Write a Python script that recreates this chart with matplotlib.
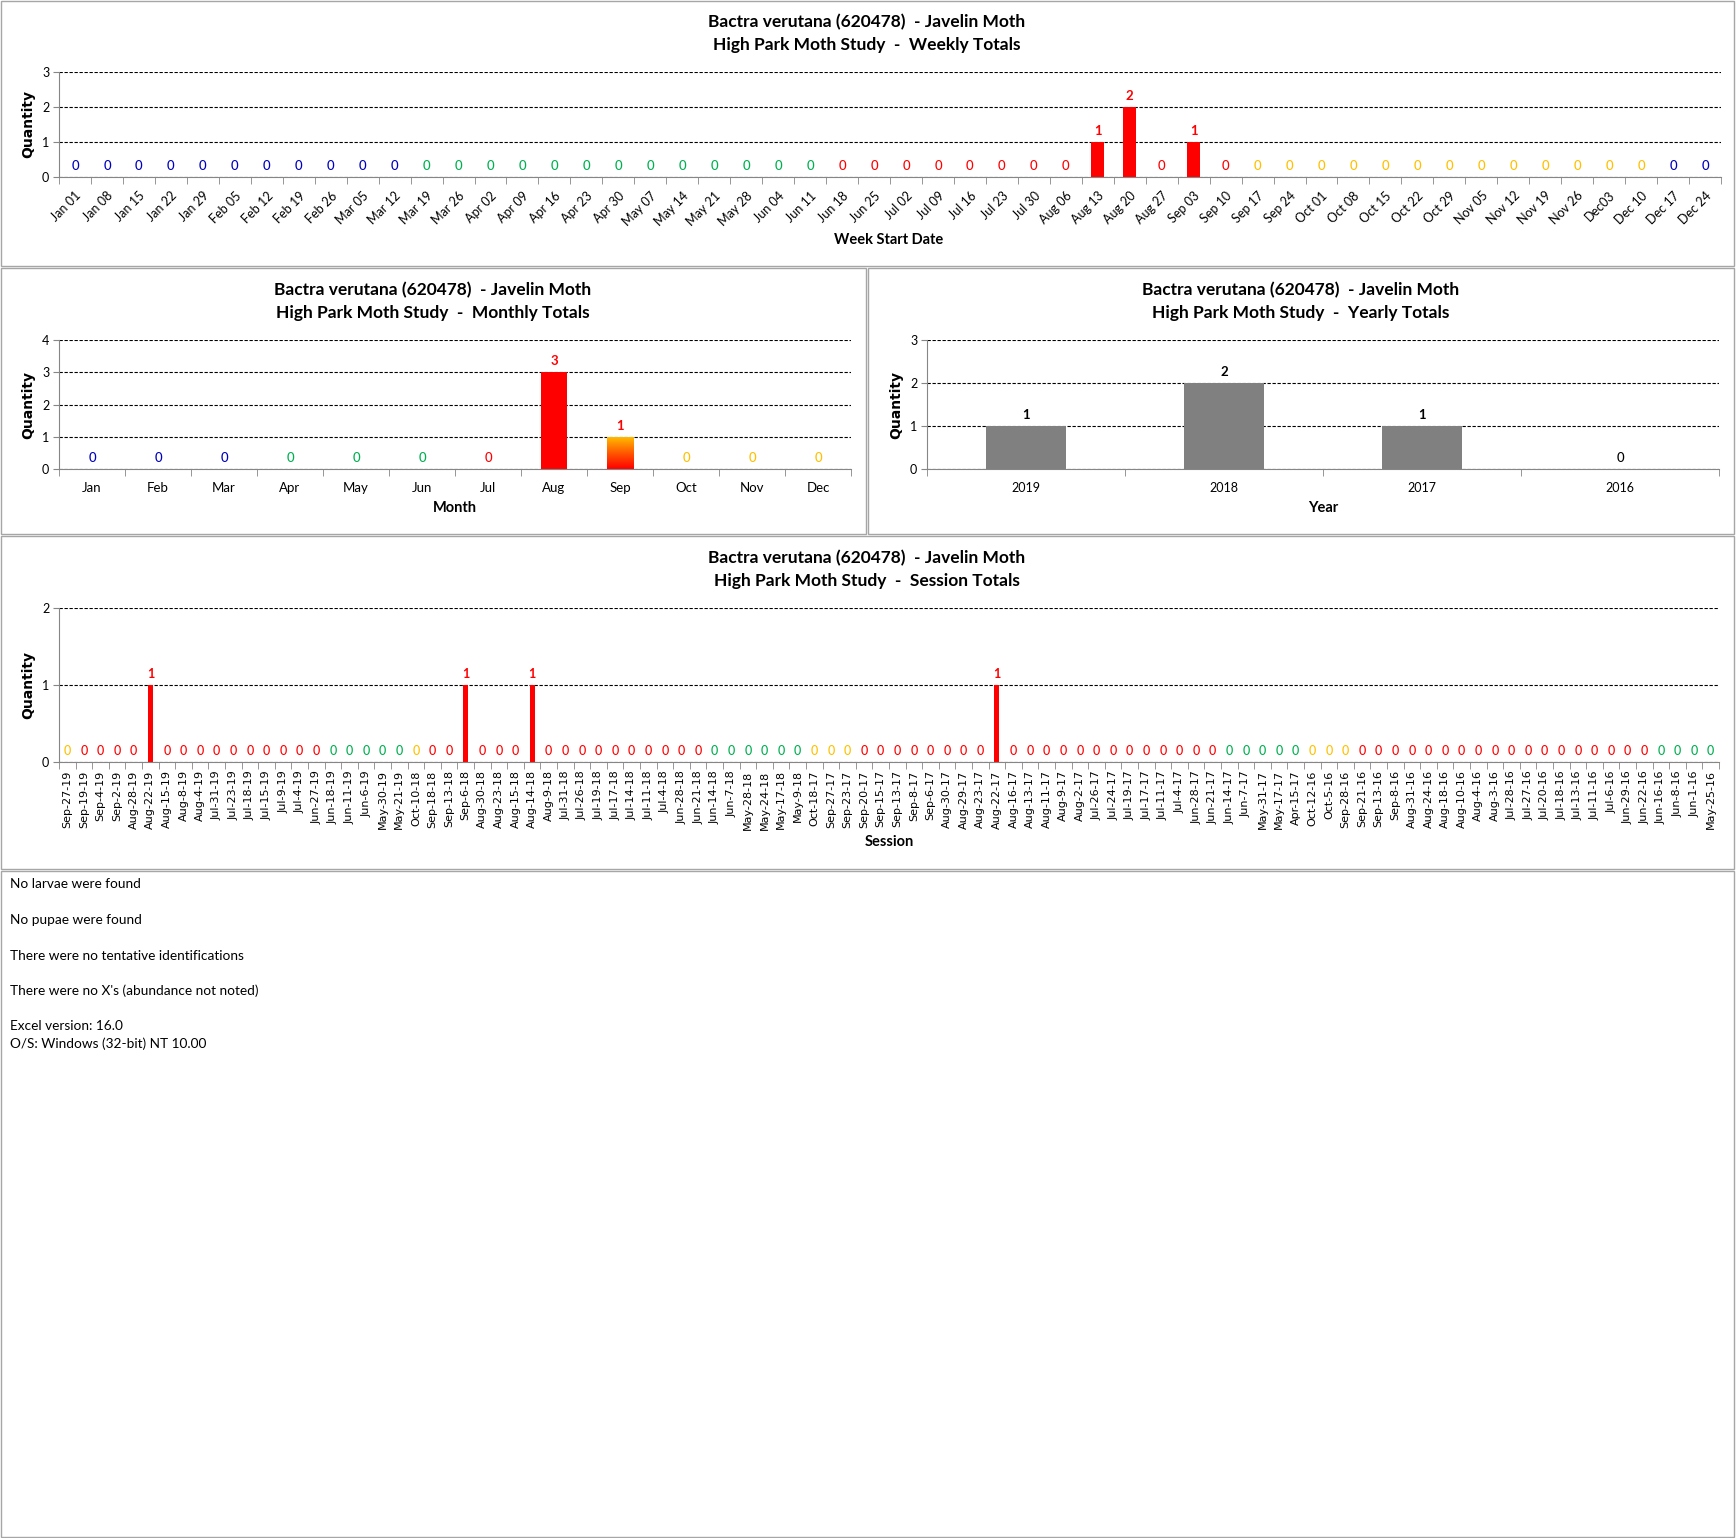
import matplotlib
matplotlib.use('Agg')
import matplotlib.pyplot as plt
import numpy as np
from matplotlib.patches import Rectangle
from matplotlib.colors import LinearSegmentedColormap

plt.rcParams['font.family'] = ['Lato', 'DejaVu Sans']

W, H = 1736, 1538

# ---- data ----
week_labels = ['Jan 01', 'Jan 08', 'Jan 15', 'Jan 22', 'Jan 29', 'Feb 05', 'Feb 12', 'Feb 19',
               'Feb 26', 'Mar 05', 'Mar 12', 'Mar 19', 'Mar 26', 'Apr 02', 'Apr 09', 'Apr 16',
               'Apr 23', 'Apr 30', 'May 07', 'May 14', 'May 21', 'May 28', 'Jun 04', 'Jun 11',
               'Jun 18', 'Jun 25', 'Jul 02', 'Jul 09', 'Jul 16', 'Jul 23', 'Jul 30', 'Aug 06',
               'Aug 13', 'Aug 20', 'Aug 27', 'Sep 03', 'Sep 10', 'Sep 17', 'Sep 24', 'Oct 01',
               'Oct 08', 'Oct 15', 'Oct 22', 'Oct 29', 'Nov 05', 'Nov 12', 'Nov 19', 'Nov 26',
               'Dec03', 'Dec 10', 'Dec 17', 'Dec 24']
week_values = [0, 0, 0, 0, 0, 0, 0, 0, 0, 0, 0, 0, 0, 0, 0, 0,
               0, 0, 0, 0, 0, 0, 0, 0, 0, 0, 0, 0, 0, 0, 0, 0,
               1, 2, 0, 1, 0, 0, 0, 0, 0, 0, 0, 0, 0, 0, 0, 0,
               0, 0, 0, 0]
week_seasons = ['w'] * 11 + ['s'] * 13 + ['u'] * 13 + ['f'] * 13 + ['w'] * 2

month_labels = ['Jan', 'Feb', 'Mar', 'Apr', 'May', 'Jun', 'Jul', 'Aug', 'Sep', 'Oct', 'Nov', 'Dec']
month_values = [0, 0, 0, 0, 0, 0, 0, 3, 1, 0, 0, 0]
month_seasons = ['w', 'w', 'w', 's', 's', 's', 'u', 'u', 'u', 'f', 'f', 'f']

year_labels = ['2019', '2018', '2017', '2016']
year_values = [1, 2, 1, 0]

session_labels = [
    'Sep-27-19', 'Sep-19-19', 'Sep-4-19', 'Sep-2-19', 'Aug-28-19', 'Aug-22-19', 'Aug-15-19',
    'Aug-8-19', 'Aug-4-19', 'Jul-31-19', 'Jul-23-19', 'Jul-18-19', 'Jul-15-19', 'Jul-9-19',
    'Jul-4-19', 'Jun-27-19', 'Jun-18-19', 'Jun-11-19', 'Jun-6-19', 'May-30-19', 'May-21-19',
    'Oct-10-18', 'Sep-18-18', 'Sep-13-18', 'Sep-6-18', 'Aug-30-18', 'Aug-23-18', 'Aug-15-18',
    'Aug-14-18', 'Aug-9-18', 'Jul-31-18', 'Jul-26-18', 'Jul-19-18', 'Jul-17-18', 'Jul-14-18',
    'Jul-11-18', 'Jul-4-18', 'Jun-28-18', 'Jun-21-18', 'Jun-14-18', 'Jun-7-18', 'May-28-18',
    'May-24-18', 'May-17-18', 'May-9-18',
    'Oct-18-17', 'Sep-27-17', 'Sep-23-17', 'Sep-20-17', 'Sep-15-17', 'Sep-13-17', 'Sep-8-17',
    'Sep-6-17', 'Aug-30-17', 'Aug-29-17', 'Aug-23-17', 'Aug-22-17', 'Aug-16-17', 'Aug-13-17',
    'Aug-11-17', 'Aug-9-17', 'Aug-2-17', 'Jul-26-17', 'Jul-24-17', 'Jul-19-17', 'Jul-17-17',
    'Jul-11-17', 'Jul-4-17', 'Jun-28-17', 'Jun-21-17', 'Jun-14-17', 'Jun-7-17', 'May-31-17',
    'May-17-17', 'Apr-15-17',
    'Oct-12-16', 'Oct-5-16', 'Sep-28-16', 'Sep-21-16', 'Sep-13-16', 'Sep-8-16', 'Aug-31-16',
    'Aug-24-16', 'Aug-18-16', 'Aug-10-16', 'Aug-4-16', 'Aug-3-16', 'Jul-28-16', 'Jul-27-16',
    'Jul-20-16', 'Jul-18-16', 'Jul-13-16', 'Jul-11-16', 'Jul-6-16', 'Jun-29-16', 'Jun-22-16',
    'Jun-16-16', 'Jun-8-16', 'Jun-1-16', 'May-25-16']
session_values = [0, 0, 0, 0, 0, 1, 0, 0, 0, 0, 0, 0, 0, 0, 0, 0, 0, 0, 0, 0, 0,
                  0, 0, 0, 1, 0, 0, 0, 1, 0, 0, 0, 0, 0, 0, 0, 0, 0, 0, 0, 0, 0, 0, 0, 0,
                  0, 0, 0, 0, 0, 0, 0, 0, 0, 0, 0, 1, 0, 0, 0, 0, 0, 0, 0, 0, 0, 0, 0, 0,
                  0, 0, 0, 0, 0, 0,
                  0, 0, 0, 0, 0, 0, 0, 0, 0, 0, 0, 0, 0, 0, 0, 0, 0, 0, 0, 0, 0, 0, 0, 0, 0]

notes = ['No larvae were found', 'No pupae were found', 'There were no tentative identifications',
         "There were no X's (abundance not noted)", 'Excel version: 16.0',
         'O/S: Windows (32-bit) NT 10.00']

SEASON_COLORS = {'w': '#0000c0', 's': '#00b050', 'u': '#ff0000', 'f': '#ffc000'}
MONTHS = ['Jan', 'Feb', 'Mar', 'Apr', 'May', 'Jun', 'Jul', 'Aug', 'Sep', 'Oct', 'Nov', 'Dec']


def session_season(label):
    mon, day, _ = label.split('-')
    md = (MONTHS.index(mon) + 1, int(day))
    if (3, 20) <= md < (6, 21):
        return 's'
    if (6, 21) <= md < (9, 22):
        return 'u'
    if (9, 22) <= md < (12, 21):
        return 'f'
    return 'w'


session_seasons = [session_season(s) for s in session_labels]

fig = plt.figure(figsize=(W / 100, H / 100), dpi=100)


def px_axes(l, t, r, b):
    return fig.add_axes([l / W, 1 - b / H, (r - l) / W, (b - t) / H])


def fig_text(x, y, s, **kw):
    fig.text(x / W, 1 - y / H, s, **kw)


def panel(l, t, r, b):
    fig.add_artist(Rectangle((l / W, 1 - b / H), (r - l) / W, (b - t) / H,
                             transform=fig.transFigure, fill=False, ec='#a6a6a6', lw=1.0))


def titles(cx, y1, which):
    fig_text(cx, y1, 'Bactra verutana (620478)  - Javelin Moth', ha='center', va='center',
             fontsize=12.5, fontweight='bold')
    fig_text(cx, y1 + 23, 'High Park Moth Study  -  ' + which, ha='center', va='center',
             fontsize=12.5, fontweight='bold')


def style_axes(ax, n, ymax):
    ax.set_xlim(-0.5, n - 0.5)
    ax.set_ylim(0, ymax)
    ax.set_yticks(range(ymax + 1))
    ax.yaxis.grid(True, linestyle=(0, (3, 1.5)), color='black', lw=0.8)
    ax.set_axisbelow(False)
    for s in ['top', 'right']:
        ax.spines[s].set_visible(False)
    for s in ['left', 'bottom']:
        ax.spines[s].set_color('#868686')
        ax.spines[s].set_zorder(5)
    ax.set_xticks(np.arange(n + 1) - 0.5, minor=True)
    ax.tick_params(axis='x', which='minor', length=5, color='#868686')
    ax.tick_params(axis='x', which='major', length=0)
    ax.tick_params(axis='y', length=4, color='#868686', labelsize=9, pad=3)


def bar_labels(ax, values, colors, size=9.5):
    for i, (v, c) in enumerate(zip(values, colors)):
        ax.annotate(str(v), (i, v), xytext=(0, 8), textcoords='offset points',
                    ha='center', va='center', color=c, fontsize=size,
                    fontweight='bold' if v else 'medium', zorder=6)


# ---- panels ----
panel(1, 1, 1734, 266)
panel(1, 268, 866, 534)
panel(868, 268, 1734, 534)
panel(1, 536, 1734, 869)
panel(1, 871, 1734, 1537)

# weekly
ax = px_axes(59, 72, 1721, 177)
n = len(week_values)
ax.bar(np.arange(n), week_values, 0.4, color='#ff0000', zorder=3)
style_axes(ax, n, 3)
ax.set_xticks(np.arange(n), week_labels, rotation=45, ha='right', rotation_mode='anchor',
              fontsize=9)
ax.tick_params(axis='x', which='major', pad=9)
bar_labels(ax, week_values, [SEASON_COLORS[s] for s in week_seasons])
titles(867, 22, 'Weekly Totals')
fig_text(889, 240, 'Week Start Date', ha='center', va='center', fontsize=10.5, fontweight='bold')
fig_text(28, 124, 'Quantity', rotation=90, ha='center', va='center', fontsize=10,
         fontweight='bold', family='DejaVu Sans')

# monthly
ax = px_axes(59, 340, 851, 469)
n = len(month_values)
bars = ax.bar(np.arange(n), month_values, 0.4, color='#ff0000', zorder=3)
style_axes(ax, n, 4)
ax.set_xticks(np.arange(n), month_labels, fontsize=9.5)
ax.tick_params(axis='x', which='major', pad=9)
sep = bars[8]
grad = LinearSegmentedColormap.from_list('sep', ['#ff0000', '#ff5a00', '#ffc000'])
img = ax.imshow(np.linspace(0, 1, 100).reshape(-1, 1), cmap=grad, origin='lower', aspect='auto',
                extent=(sep.get_x(), sep.get_x() + sep.get_width(), 0, sep.get_height()), zorder=4)
img.set_clip_path(sep)
ax.set_xlim(-0.5, n - 0.5)
ax.set_ylim(0, 4)
bar_labels(ax, month_values, [SEASON_COLORS[s] for s in month_seasons])
titles(433, 290, 'Monthly Totals')
fig_text(455, 508, 'Month', ha='center', va='center', fontsize=10.5, fontweight='bold')
fig_text(28, 405, 'Quantity', rotation=90, ha='center', va='center', fontsize=10,
         fontweight='bold', family='DejaVu Sans')

# yearly
ax = px_axes(927, 340, 1719, 469)
n = len(year_values)
ax.bar(np.arange(n), year_values, 0.4, color='#808080', zorder=3)
style_axes(ax, n, 3)
ax.set_xticks(np.arange(n), year_labels, fontsize=9)
ax.tick_params(axis='x', which='major', pad=9)
bar_labels(ax, year_values, ['black'] * n)
titles(1301, 290, 'Yearly Totals')
fig_text(1323, 508, 'Year', ha='center', va='center', fontsize=10.5, fontweight='bold')
fig_text(896, 405, 'Quantity', rotation=90, ha='center', va='center', fontsize=10,
         fontweight='bold', family='DejaVu Sans')

# sessions
ax = px_axes(59, 608, 1719, 762)
n = len(session_values)
ax.bar(np.arange(n), session_values, 0.3, color='#ff0000', zorder=3)
style_axes(ax, n, 2)
ax.set_xticks(np.arange(n), session_labels, rotation=90, fontsize=8, family='DejaVu Sans')
ax.tick_params(axis='x', which='major', pad=6)
bar_labels(ax, session_values, [SEASON_COLORS[s] for s in session_seasons], size=9)
titles(867, 558, 'Session Totals')
fig_text(889, 842, 'Session', ha='center', va='center', fontsize=10.5, fontweight='bold')
fig_text(28, 685, 'Quantity', rotation=90, ha='center', va='center', fontsize=10,
         fontweight='bold', family='DejaVu Sans')

# notes
note_y = [884, 920, 956, 991, 1026, 1044]
for y, s in zip(note_y, notes):
    fig_text(10, y, s, ha='left', va='center', fontsize=9.8)

fig.savefig('out.png', dpi=100, facecolor='white')
